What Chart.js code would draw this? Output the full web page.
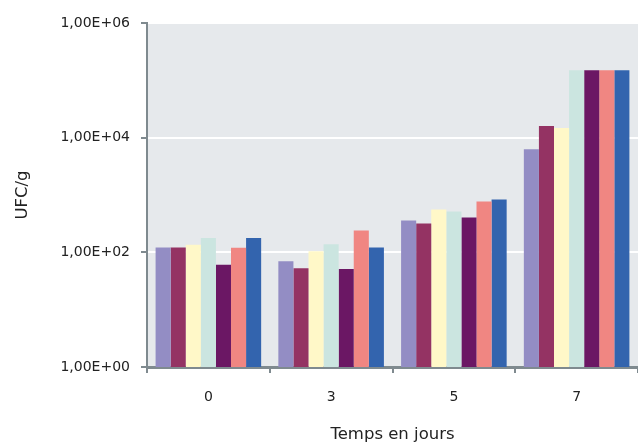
<!DOCTYPE html>
<html><head><meta charset="utf-8">
<script src="https://cdn.jsdelivr.net/npm/chart.js@4.4.0/dist/chart.umd.min.js"></script>
<style>html,body{margin:0;padding:0;background:#fff;}#wrap{width:638px;height:445px;}</style>
</head><body><div id="wrap"><canvas id="c" width="638" height="445"></canvas></div>
<script>
const categories = ["0", "3", "5", "7"];
const s1 = [122, 70, 360, 6300];
const s2 = [122, 53, 319, 16000];
const s3 = [135, 104, 560, 14800];
const s4 = [178, 138, 516, 150000];
const s5 = [61, 51, 406, 150000];
const s6 = [120, 241, 771, 150000];
const s7 = [178, 122, 832, 150000];
const yTicks = [1, 100, 10000, 1000000];
const yTickLabels = ["1,00E+00", "1,00E+02", "1,00E+04", "1,00E+06"];
const colors = ["#938DC4", "#943363", "#FFF8C8", "#CBE5E0", "#6B1764", "#F08682", "#3364AE"];
const series = [s1, s2, s3, s4, s5, s6, s7];

const bgPlugin = {
  id: 'bg',
  beforeDraw(chart) {
    const {ctx, chartArea: a} = chart;
    ctx.save();
    ctx.fillStyle = '#E6E9EC';
    ctx.fillRect(a.left, a.top, a.right - a.left, a.bottom - a.top);
    ctx.restore();
  }
};
const font = {family: "'DejaVu Sans', sans-serif", size: 14};
const tfont = {family: "'DejaVu Sans', sans-serif", size: 16.5};
new Chart(document.getElementById('c'), {
  type: 'bar',
  data: {
    labels: categories,
    datasets: series.map((d, i) => ({data: d, backgroundColor: colors[i], borderWidth: 0,
      barPercentage: 1, categoryPercentage: 0.86}))
  },
  options: {
    responsive: false, animation: false,
    layout: {padding: {top: 23, right: -4, left: 0, bottom: 0}},
    plugins: {legend: {display: false}, tooltip: {enabled: false}},
    scales: {
      x: {
        grid: {offset: true, drawOnChartArea: false, tickColor: '#7F8A8F', tickLength: 6, lineWidth: 2},
        border: {color: '#7F8A8F', width: 3},
        ticks: {color: '#222', font: font, padding: 16},
        title: {display: true, text: 'Temps en jours', color: '#222', font: tfont, padding: {top: 0, bottom: 0}},
        afterFit(s) { s.height = 78; }
      },
      y: {
        type: 'logarithmic', min: 1, max: 1000000,
        afterBuildTicks(s) { s.ticks = yTicks.map(v => ({value: v})); },
        grid: {color: '#FFFFFF', lineWidth: 2, tickColor: '#7F8A8F', tickLength: 6},
        border: {color: '#7F8A8F', width: 2},
        ticks: {color: '#222', font: font, padding: 11,
          callback: (v) => { const i = yTicks.indexOf(v); return i >= 0 ? yTickLabels[i] : ''; }},
        title: {display: true, text: 'UFC/g', color: '#222', font: tfont, padding: {top: 13, bottom: 0}},
        afterFit(s) { s.width = 147; }
      }
    }
  },
  plugins: [bgPlugin]
});
</script></body></html>
